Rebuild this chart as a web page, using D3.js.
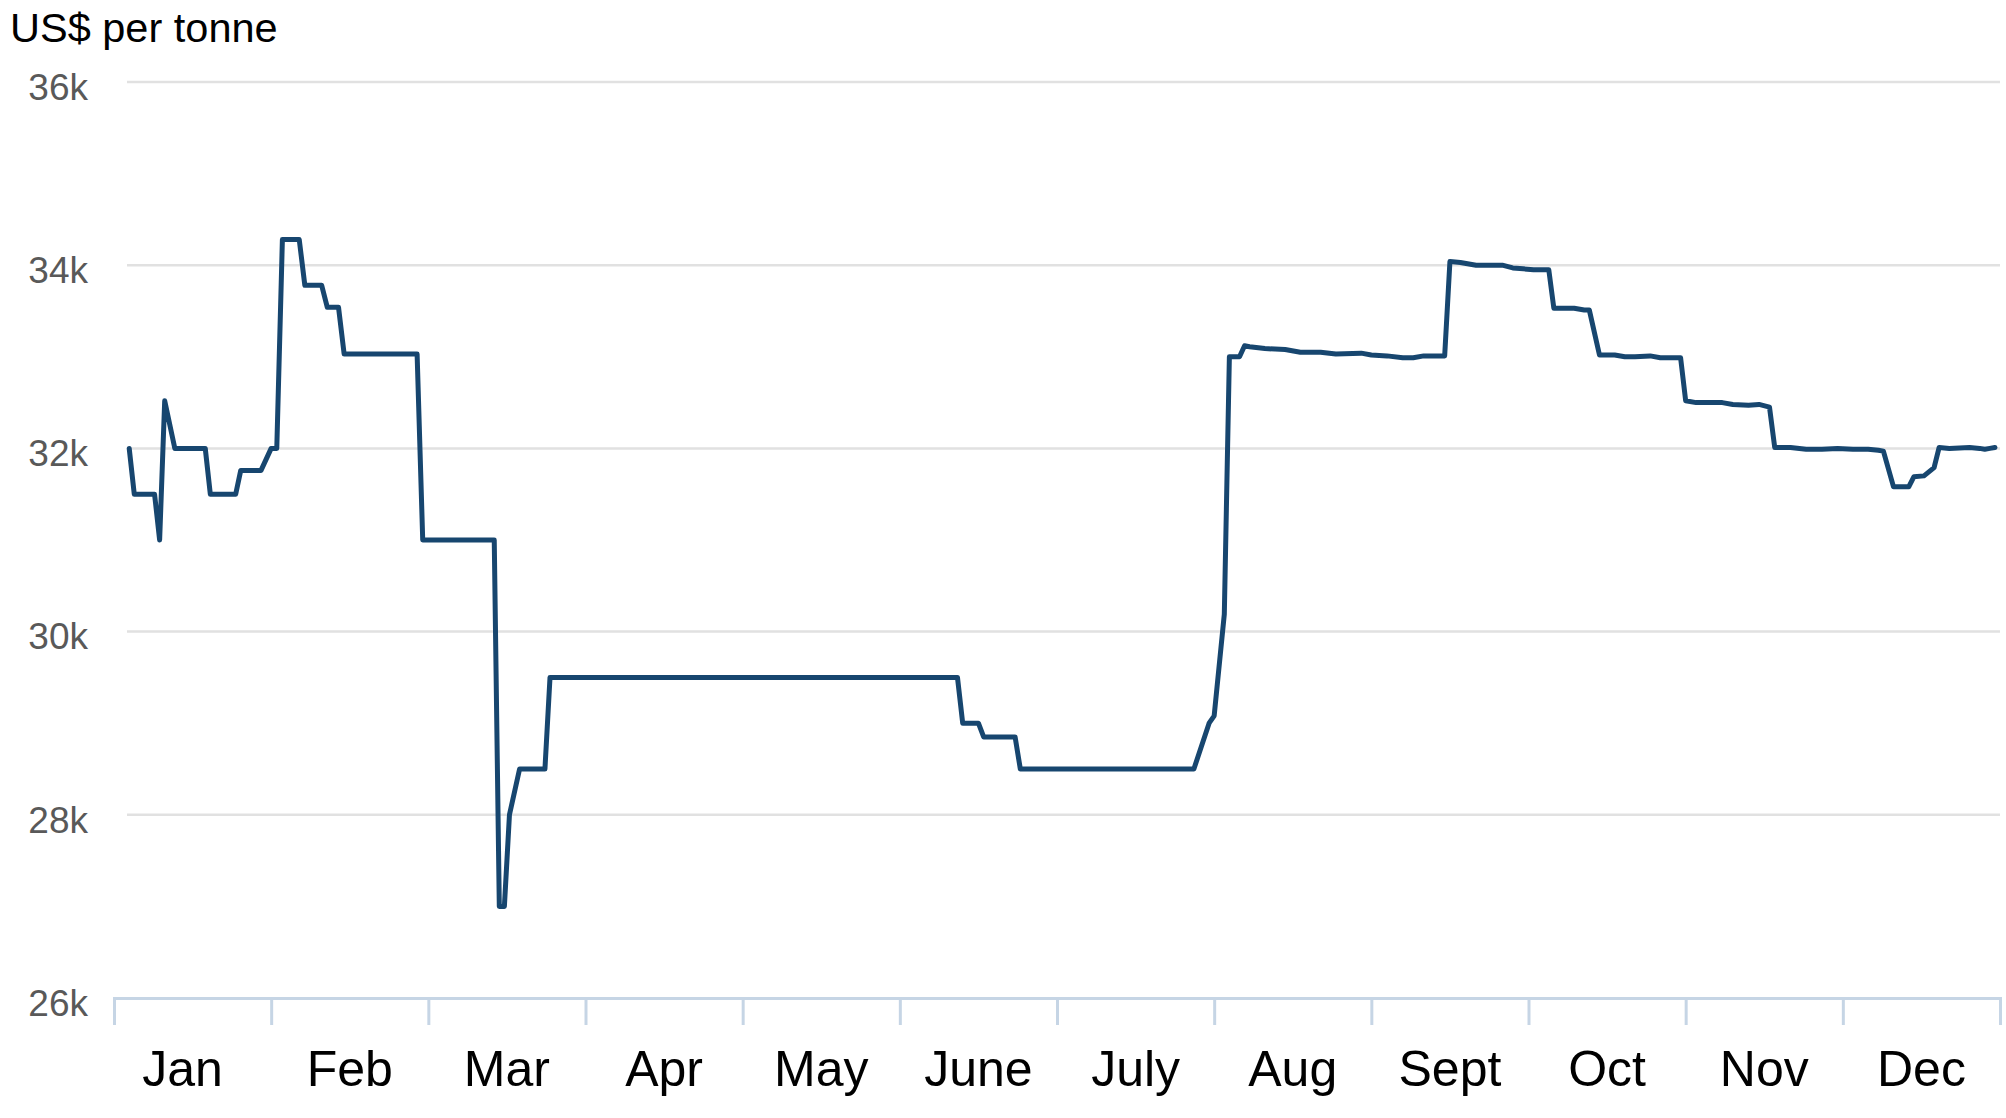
<!DOCTYPE html>
<html>
<head>
<meta charset="utf-8">
<script src="https://cdn.jsdelivr.net/npm/d3@7"></script>
<style>
  body { margin: 0; background: #fff; }
  svg { display: block; font-family: "Liberation Sans", Arial, sans-serif; }
</style>
</head>
<body>
<div id="chart"></div>
<script>

// Chart size
const width = 2006;
const height = 1118;
const margin = {left: 114, right: 6, top: 82, bottom: 120};

// Data: dates where the price changes, and the price (US$ per tonne)
const year = 2023;
const dates = [
  "01-04","01-05","01-09","01-10","01-11","01-13","01-19","01-20","01-25","01-26","01-30",
  "02-01","02-02","02-03","02-06","02-07","02-10","02-11","02-13","02-14","02-27","02-28",
  "03-14","03-15","03-16","03-17","03-19","03-24","03-25",
  "06-12","06-13","06-16","06-17","06-23","06-24",
  "07-28","07-31",
  "08-01","08-03","08-04","08-06","08-07","08-08","08-11","08-15","08-18","08-22","08-25","08-30",
  "09-01","09-04","09-07","09-09","09-11","09-15","09-16","09-18","09-21","09-26","09-28","09-30",
  "10-02","10-05","10-06","10-10","10-12","10-13","10-15","10-18","10-20","10-22","10-25","10-27","10-31",
  "11-01","11-03","11-08","11-10","11-13","11-15","11-17","11-18","11-21","11-24","11-27","11-30",
  "12-03","12-06","12-08","12-09","12-11","12-14","12-15","12-17","12-19","12-20","12-22","12-26","12-28","12-29","12-30","12-31"
];
const prices = [
  32000,31500,31500,31000,32520,32000,32000,31500,31500,31760,31760,
  32000,32000,34280,34280,33780,33780,33540,33540,33030,33030,31000,
  31000,27000,27000,28000,28500,28500,29500,
  29500,29000,29000,28850,28850,28500,
  28500,29000,
  29080,30190,33000,33000,33120,33110,33090,33080,33050,33050,33030,33040,
  33020,33010,32990,32990,33010,33010,34040,34030,34000,34000,33970,33960,
  33950,33950,33530,33530,33510,33510,33020,33020,33000,33000,33010,32990,32990,
  32520,32500,32500,32480,32470,32480,32450,32010,32010,31990,31990,32000,
  31990,31990,31980,31970,31580,31580,31690,31700,31790,32010,32000,32010,32000,31990,32000,32010
];

// Axis labels
const months = ["Jan","Feb","Mar","Apr","May","June","July","Aug","Sept","Oct","Nov","Dec"];
const yTicks = [26000, 28000, 30000, 32000, 34000, 36000];
const yTitle = "US$ per tonne";

const parse = d3.utcParse("%Y-%m-%d");
const data = dates.map((d, i) => ({date: parse(year + "-" + d), value: prices[i]}));

// position of a date in "months" (each month gets the same width)
function monthPos(date) {
  const start = d3.utcMonth.floor(date);
  const days = d3.utcDay.count(start, d3.utcMonth.offset(start, 1));
  return date.getUTCMonth() + (date.getUTCDate() - 1) / days;
}

const svg = d3.select("#chart")
  .append("svg")
  .attr("width", width)
  .attr("height", height);

// Scales
const xScale = d3.scaleLinear()
  .domain([0, 12])
  .range([margin.left, width - margin.right]);

const xBand = d3.scaleBand()
  .domain(months)
  .range([margin.left, width - margin.right]);

const yScale = d3.scaleLinear()
  .domain([26000, 36000])
  .range([height - margin.bottom, margin.top]);

// Gridlines
svg.append("g")
  .selectAll("line")
  .data(yTicks.slice(1))
  .enter()
  .append("line")
    .attr("x1", 127)
    .attr("x2", width - margin.right)
    .attr("y1", d => yScale(d))
    .attr("y2", d => yScale(d))
    .attr("stroke", "#e1e1e1")
    .attr("stroke-width", 2.5);

// Y axis labels
const yAxis = svg.append("g")
  .attr("transform", "translate(88,0)")
  .call(d3.axisLeft(yScale).tickValues(yTicks).tickSize(0).tickPadding(0)
          .tickFormat(d => (d / 1000) + "k"));
yAxis.select(".domain").remove();
yAxis.selectAll("text")
  .attr("font-size", "37px")
  .attr("font-family", "Liberation Sans, Arial, sans-serif")
  .attr("fill", "#595959")
  .attr("dy", "0.47em");

// X axis line and month ticks
const xAxis = svg.append("g")
  .attr("transform", `translate(0,${height - margin.bottom})`)
  .call(d3.axisBottom(xScale).tickValues(d3.range(13)).tickSize(27).tickFormat(""));
xAxis.select(".domain")
  .attr("stroke", "#c6d5e5")
  .attr("stroke-width", 3);
xAxis.selectAll(".tick line")
  .attr("stroke", "#c6d5e5")
  .attr("stroke-width", 3);

// Month labels
const xLabels = svg.append("g")
  .attr("transform", `translate(0,${height - margin.bottom})`)
  .call(d3.axisBottom(xBand).tickSize(0));
xLabels.select(".domain").remove();
xLabels.selectAll("text")
  .attr("y", 88)
  .attr("dy", "0")
  .attr("dx", (d, i) => i === 0 ? -10 : 0)
  .attr("font-size", "50px")
  .attr("font-family", "Liberation Sans, Arial, sans-serif")
  .attr("fill", "#000");

// Title
svg.append("text")
  .attr("x", 10)
  .attr("y", 42)
  .attr("font-size", "41.5px")
  .attr("fill", "#000")
  .text(yTitle);

// Price line
const line = d3.line()
  .x(d => xScale(monthPos(d.date)))
  .y(d => yScale(d.value));

svg.append("path")
  .datum(data)
  .attr("fill", "none")
  .attr("stroke", "#17466f")
  .attr("stroke-width", 5)
  .attr("stroke-linejoin", "round")
  .attr("stroke-linecap", "round")
  .attr("d", line);

</script>
</body>
</html>
